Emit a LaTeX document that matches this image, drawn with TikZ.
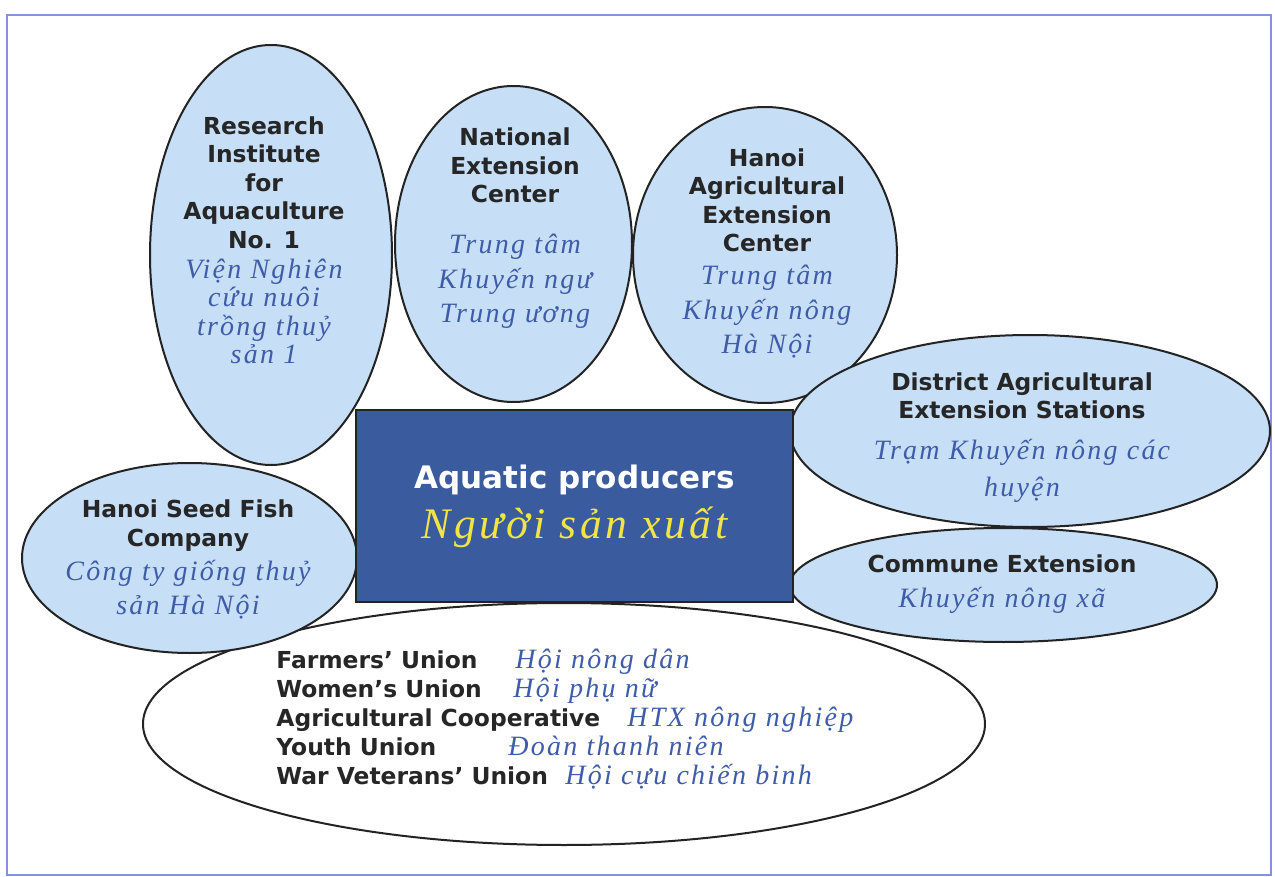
\documentclass[tikz,border=0pt]{standalone}
\usepackage{fontspec}
\usepackage{tikz}
\usetikzlibrary{shapes,positioning}
\newfontfamily\enfam{DejaVu Sans}
\newfontfamily\vnfam{Liberation Serif}[LetterSpace=8]
\definecolor{bubblefill}{RGB}{198,222,246}
\definecolor{rimgray}{RGB}{35,35,35}
\definecolor{boxblue}{RGB}{58,92,158}
\definecolor{vnblue}{RGB}{62,92,168}
\definecolor{vnyellow}{RGB}{240,228,70}
\definecolor{framebl}{RGB}{128,148,214}
\definecolor{endark}{RGB}{38,38,38}
\newcommand{\EN}{\enfam\bfseries\fontsize{11.7}{14.25}\selectfont\color{endark}}
\newcommand{\VN}[1]{{\vnfam\mdseries\itshape\fontsize{14}{14.25}\selectfont\color{vnblue}#1}}
\lineskiplimit=-100pt
\tikzstyle{bubble}=[ellipse, draw=rimgray, line width=1pt, fill=bubblefill, inner sep=0pt]
\tikzstyle{entext}=[align=center, font=\EN, inner sep=0pt]
\tikzstyle{unionrow}=[anchor=base west, font=\EN, inner sep=0pt]
\tikzstyle{unionvn}=[anchor=base west, inner sep=0pt]

\begin{document}
\begin{tikzpicture}[x=0.5pt, y=-0.5pt]
\useasboundingbox (0,0) rectangle (1275,877);
\node[draw=framebl, line width=1pt, minimum width=632pt, minimum height=430pt, inner sep=0pt] (frame) at (639,445) {};

\node[ellipse, draw=rimgray, line width=1pt, fill=white, inner sep=0pt, minimum width=421pt, minimum height=121pt] (unions) at (564,724) {};
\node[bubble, minimum width=167.5pt, minimum height=95pt] (seed) at (189.5,558) {};
\node[bubble, minimum width=121pt, minimum height=210pt] (ria) at (271,255) {};
\node[bubble, minimum width=118.5pt, minimum height=158pt] (nec) at (513.5,244) {};
\node[bubble, minimum width=132pt, minimum height=148pt] (haec) at (765,255) {};
\node[bubble, minimum width=240pt, minimum height=96pt] (daes) at (1030,431) {};
\node[bubble, minimum width=213.5pt, minimum height=57pt] (commune) at (1003.5,585) {};
\node[draw=rimgray, line width=1pt, fill=boxblue, minimum width=218.5pt, minimum height=96pt, inner sep=0pt, align=center, font=\fontsize{15}{25}\selectfont] (producers) at (574.5,506) {{\enfam\bfseries\fontsize{15.5}{18}\selectfont\color{white}Aquatic producers}\\{\vnfam\itshape\fontsize{21.8}{24}\selectfont\color{vnyellow}Người sản xuất}};

\node[entext] (riatxt) at (264,240.5) {Research\\Institute\\for\\Aquaculture\\No. 1\\[0.75pt]\VN{Viện Nghiên}\\\VN{cứu nuôi}\\\VN{trồng thuỷ}\\\VN{sản 1}};
\node[entext] (nectxt) at (515,228.5) {National\\Extension\\Center\\[11.25pt]\VN{Trung tâm}\\[3pt]\VN{Khuyến ngư}\\[3pt]\VN{Trung ương}};
\node[entext] (haectxt) at (767,253.5) {Hanoi\\Agricultural\\Extension\\Center\\[2.25pt]\VN{Trung tâm}\\[3pt]\VN{Khuyến nông}\\[3pt]\VN{Hà Nội}};
\node[entext] (daestxt) at (1022,437.5) {District Agricultural\\Extension Stations\\[6.25pt]\VN{Trạm Khuyến nông các}\\[4.25pt]\VN{huyện}};
\node[entext] (communetxt) at (1002,584.5) {Commune Extension\\[3.25pt]\VN{Khuyến nông xã}};
\node[entext] (seedtxt) at (188,559.5) {Hanoi Seed Fish\\Company\\[3pt]\VN{Công ty giống thuỷ}\\[2.75pt]\VN{sản Hà Nội}};

\node[unionrow] (farmers) at (276,668) {Farmers’ Union};
\node[unionrow] (women) at (276,697) {Women’s Union};
\node[unionrow] (coop) at (276,726) {Agricultural Cooperative};
\node[unionrow] (youth) at (276,755) {Youth Union};
\node[unionrow] (veterans) at (276,784) {War Veterans’ Union};
\node[unionvn] (farmersvn) at (515,668) {\VN{Hội nông dân}};
\node[unionvn] (womenvn) at (513,697) {\VN{Hội phụ nữ}};
\node[unionvn] (coopvn) at (627,726) {\VN{HTX nông nghiệp}};
\node[unionvn] (youthvn) at (508,755) {\VN{Đoàn thanh niên}};
\node[unionvn] (veteransvn) at (565,784) {\VN{Hội cựu chiến binh}};

\end{tikzpicture}
\end{document}
